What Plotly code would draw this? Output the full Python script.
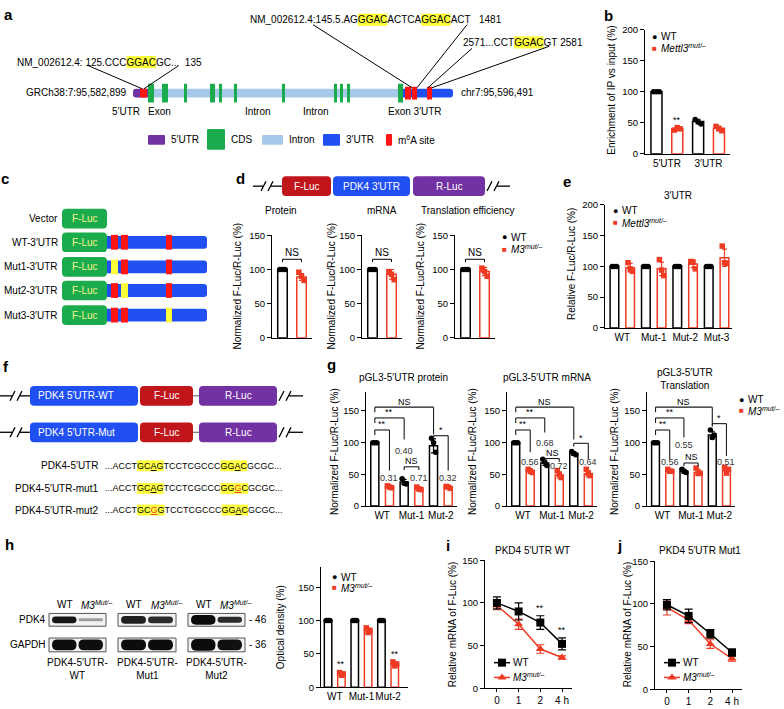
import plotly.graph_objects as go

W, H = 784, 709
FONT = "Liberation Sans, Arial, Helvetica, sans-serif"
BLK = "#000000"
RED = "#ef3b24"
PURPLE = "#7232a3"
GREEN = "#1aac4c"
LBLUE = "#a7c9e9"
BLUE = "#2150f2"
M6A = "#ff1414"
YEL = "#ffff3a"
DKRED = "#c0151b"
PALE = "#f4f48c"

# ============================ DATA ============================
# (a) PDK4 gene schematic
a_left_label = "GRCh38:7:95,582,899"
a_right_label = "chr7:95,596,491"
a_exons = [(148, 154), (162, 168), (184, 187), (210, 215), (219, 222), (234, 237),
           (282, 285), (334, 337), (340, 343), (347, 350), (398, 403)]
a_utr3_m6a = [(405, 411), (412, 417), (427, 432)]
a_region_labels = ["5′UTR", "Exon", "Intron", "Intron", "Exon 3′UTR"]
a_legend_labels = ["5′UTR", "CDS", "Intron", "3′UTR", "m<sup>6</sup>A site"]
a_seq1 = [("NM_002612.4: 125.CCC", ""), ("GGAC", "hl"), ("GC...\u00a0\u00a0135", "")]
a_seq2 = [("NM_002612.4:145.5.AG", ""), ("GGAC", "hl"), ("ACTCA", ""), ("GGAC", "hl"),
          ("ACT\u00a0\u00a0\u00a01481", "")]
a_seq3 = [("2571...CCT", ""), ("GGAC", "hl"), ("GT\u00a02581", "")]

# (b)
b_cats = ["5′UTR", "3′UTR"]
b_wt_mean = [100, 52]
b_wt_err = [1, 3.5]
b_wt_pts = [[100, 100, 100], [55, 51, 48]]
b_mut_mean = [40, 41]
b_mut_err = [2.5, 3.5]
b_mut_pts = [[38, 42, 40], [44, 40, 37]]
b_sig = ["**", ""]

# (c)
c_rows = ["Vector", "WT-3′UTR", "Mut1-3′UTR", "Mut2-3′UTR", "Mut3-3′UTR"]
c_mut_site = [None, None, 0, 1, 2]

# (d)
d_titles = ["Protein", "mRNA", "Translation efficiency"]
d_wt_mean = [100, 100, 100]
d_wt_err = [1.5, 1.5, 1.5]
d_wt_pts = [[100, 100, 100], [100, 100, 100], [100, 100, 100]]
d_mut_mean = [89, 93, 97]
d_mut_err = [5, 7, 6]
d_mut_pts = [[96, 90, 84], [97, 93, 85], [102, 97, 90]]
d_sig = ["NS", "NS", "NS"]

# (e)
e_cats = ["WT", "Mut-1", "Mut-2", "Mut-3"]
e_wt_mean = [100, 100, 100, 100]
e_wt_err = [1, 1, 1, 1]
e_wt_pts = [[100, 100, 100], [100, 100, 100], [100, 100, 100], [100, 100, 100]]
e_mut_mean = [98, 96, 104, 114]
e_mut_err = [7, 11, 6, 14]
e_mut_pts = [[106, 96, 92], [111, 94, 85], [108, 107, 96], [133, 106, 105]]

# (f)
f_construct_names = ["PDK4 5′UTR-WT", "PDK4 5′UTR-Mut"]
f_seq_names = ["PDK4-5′UTR", "PDK4-5′UTR-mut1", "PDK4-5′UTR-mut2"]
f_seqs = [
    [("...ACCT", ""), ("GC", "hl"), ("A", "hlu"), ("G", "hl"), ("TCCTCGCCC", ""),
     ("GG", "hl"), ("A", "hlu"), ("C", "hl"), ("GCGC...", "")],
    [("...ACCT", ""), ("GC", "hl"), ("A", "hlu"), ("G", "hl"), ("TCCTCGCCC", ""),
     ("GG", "hl"), ("G", "hlr"), ("C", "hl"), ("GCGC...", "")],
    [("...ACCT", ""), ("GC", "hl"), ("G", "hlr"), ("G", "hl"), ("TCCTCGCCC", ""),
     ("GG", "hl"), ("A", "hlu"), ("C", "hl"), ("GCGC...", "")],
]

# (g)
g_titles = ["pGL3-5′UTR protein", "pGL3-5′UTR mRNA", "pGL3-5′UTR<br>Translation"]
g_cats = ["WT", "Mut-1", "Mut-2"]
g_wt_mean = [[100, 38, 95], [100, 68, 83], [100, 55, 112]]
g_wt_err = [[1, 4, 11], [1, 4, 3], [1, 3, 6]]
g_wt_pts = [[[100, 100, 100], [43, 36, 35], [107, 100, 85]],
            [[100, 100, 100], [74, 69, 64], [86, 83, 81]],
            [[100, 100, 100], [58, 55, 53], [120, 108, 112]]]
g_mut_mean = [[31, 28, 30], [56, 49, 51], [56, 53, 56]]
g_mut_err = [[2, 2, 2], [3, 5, 5], [2, 5, 4]]
g_mut_pts = [[[32, 30, 29], [30, 27, 26], [31, 30, 28]],
             [[58, 55, 53], [56, 50, 45], [58, 52, 48]],
             [[58, 55, 55], [60, 52, 52], [61, 52, 58]]]
g_ratio_text = [["0.31", "0.40", "0.71", "0.32"], ["0.56", "0.68", "0.72", "0.64"], ["0.56", "0.55", "0.51"]]
g_ratio_bar = [[1, 2, 3, 5], [1, 2, 3, 5], [1, 2, 5]]
g_sig_labels = [["NS", "**", "**", "NS", "*"], ["NS", "**", "**", "NS", "*"], ["NS", "**", "**", "NS", "*"]]
g_sig_pairs = [(0, 4), (0, 2), (0, 1), (2, 3), (4, 5)]

# (h)
h_lanes = ["WT", "<i>M3</i><sup><i>Mut/–</i></sup>"]
h_groups = ["PDK4-5′UTR-<br>WT", "PDK4-5′UTR-<br>Mut1", "PDK4-5′UTR-<br>Mut2"]
h_proteins = ["PDK4", "GAPDH"]
h_markers = ["- 46", "- 36"]
h_pdk4_intensity = [0.95, 0.35, 0.9, 0.85, 0.99, 0.85]
h_gapdh_intensity = [0.98, 0.98, 0.99, 0.99, 0.99, 0.97]
h_cats = ["WT", "Mut-1", "Mut-2"]
h_wt_mean = [100, 100, 100]
h_wt_err = [1, 1, 1]
h_wt_pts = [[100, 100, 100], [100, 100, 100], [100, 100, 100]]
h_mut_mean = [20, 85, 35]
h_mut_err = [3, 4, 3]
h_mut_pts = [[22, 18, 20], [89, 82, 85], [38, 32, 35]]
h_sig = ["**", "", "**"]

# (i), (j)
ij_times = ["0", "1", "2", "4 h"]
i_title = "PKD4 5′UTR WT"
i_wt_mean = [100, 90, 77, 52]
i_wt_err = [7, 10, 8, 7]
i_mut_mean = [97, 75, 46, 36]
i_mut_err = [5, 6, 5, 2]
i_sig = ["", "", "**", "**"]
j_title = "PKD4 5′UTR Mut1"
j_wt_mean = [99, 86, 65, 43]
j_wt_err = [6, 8, 5, 4]
j_mut_mean = [96, 81, 53, 36]
j_mut_err = [9, 4, 5, 3]

MUT = "<i>M3</i><sup><i>mut/–</i></sup>"
METTL = "<i>Mettl3</i><sup><i>mut/–</i></sup>"

# ============================ HELPERS ============================
traces, shapes, ann = [], [], []
layout = dict(width=W, height=H, margin=dict(l=0, r=0, t=0, b=0, pad=0), autosize=False,
              paper_bgcolor="white", plot_bgcolor="rgba(0,0,0,0)", showlegend=False,
              barmode="overlay", font=dict(family=FONT, size=10, color=BLK))
layout["xaxis"] = dict(domain=[0, 1], range=[0, W], visible=False, fixedrange=True)
layout["yaxis"] = dict(domain=[0, 1], range=[H, 0], visible=False, fixedrange=True)
n_ax = [1]

AW = {' ': 278, '\u00a0': 278, '.': 278, ',': 278, ':': 278, '_': 556, '-': 333, '/': 278,
      'A': 667, 'B': 667, 'C': 722, 'D': 722, 'E': 667, 'F': 611, 'G': 778, 'H': 722, 'I': 278,
      'K': 667, 'L': 556, 'M': 833, 'N': 722, 'O': 778, 'P': 667, 'R': 722, 'S': 667, 'T': 611,
      'U': 722, 'W': 944}


def tw(s, size):
    return sum(AW.get(c, 556) for c in s) * size / 1000.0


def txt(x, y, s, size=10, anchor="center", color=BLK, va="middle", angle=0,
        xref="x", yref="y", yshift=0, bold=False):
    if bold:
        s = f"<b>{s}</b>"
    ann.append(dict(x=x, y=y, xref=xref, yref=yref, text=s, showarrow=False,
                    xanchor=anchor, yanchor=va, textangle=angle, yshift=yshift,
                    font=dict(size=size, color=color, family=FONT),
                    borderpad=0, borderwidth=0))


def line(x0, y0, x1, y1, color=BLK, w=1.0, xref="x", yref="y"):
    shapes.append(dict(type="line", x0=x0, y0=y0, x1=x1, y1=y1, xref=xref, yref=yref,
                       line=dict(color=color, width=w), layer="above"))


def rr(x0, y0, x1, y1, r):
    r = min(r, (x1 - x0) / 2, (y1 - y0) / 2)
    return (f"M{x0 + r},{y0} L{x1 - r},{y0} Q{x1},{y0} {x1},{y0 + r} L{x1},{y1 - r} "
            f"Q{x1},{y1} {x1 - r},{y1} L{x0 + r},{y1} Q{x0},{y1} {x0},{y1 - r} "
            f"L{x0},{y0 + r} Q{x0},{y0} {x0 + r},{y0} Z")


def box(x0, y0, x1, y1, fill, r=0, lc=None, lw=0, layer="above"):
    ln = dict(color=lc if lc else fill, width=lw)
    if r:
        shapes.append(dict(type="path", path=rr(x0, y0, x1, y1, r), xref="x", yref="y",
                           fillcolor=fill, line=ln, layer=layer))
    else:
        shapes.append(dict(type="rect", x0=x0, y0=y0, x1=x1, y1=y1, xref="x", yref="y",
                           fillcolor=fill, line=ln, layer=layer))


def seq_line(x, y, segs, size):
    html, cx = "", x
    for t, st in segs:
        w = tw(t, size)
        if st.startswith("hl"):
            box(cx, y - size * 0.62, cx + w, y + size * 0.62, YEL, layer="below")
        if st == "hlu":
            t = f"<u>{t}</u>"
        elif st == "hlr":
            t = f"<span style='color:{RED}'><u>{t}</u></span>"
        html += t
        cx += w
    txt(x, y, html, size=size, anchor="left")


def add_axes(x0, x1, yb, yt, xr, yr, ytv, xtv, xtt, xticks=""):
    n_ax[0] += 1
    n = n_ax[0]
    layout[f"xaxis{n}"] = dict(domain=[x0 / W, x1 / W], range=xr, anchor=f"y{n}",
                               showline=True, linecolor=BLK, linewidth=1.2, ticks=xticks,
                               ticklen=3, tickwidth=1.2, tickcolor=BLK, tickmode="array",
                               tickvals=xtv, ticktext=xtt, showgrid=False, zeroline=False,
                               tickangle=0,
                               tickfont=dict(size=10, color=BLK, family=FONT), fixedrange=True)
    layout[f"yaxis{n}"] = dict(domain=[1 - yb / H, 1 - yt / H], range=yr, anchor=f"x{n}",
                               showline=True, linecolor=BLK, linewidth=1.2, ticks="outside",
                               ticklen=4, tickwidth=1.2, tickcolor=BLK, tickmode="array",
                               tickvals=ytv, showgrid=False, zeroline=False,
                               tickfont=dict(size=9.5, color=BLK, family=FONT), fixedrange=True)
    return f"x{n}", f"y{n}"


JIT = [-0.14, 0.0, 0.14]


def bars(xa, ya, pos, means, errs, pts, color, symbol, width):
    traces.append(go.Bar(x=pos, y=means, width=width, xaxis=xa, yaxis=ya, hoverinfo="skip",
                         marker=dict(color="white", line=dict(color=color, width=1.5)),
                         error_y=dict(type="data", array=errs, visible=True, color=color,
                                      thickness=1.2, width=2.5)))
    xs, ys = [], []
    for p, vals in zip(pos, pts):
        for k, v in enumerate(vals):
            xs.append(p + JIT[k % 3])
            ys.append(v)
    traces.append(go.Scatter(x=xs, y=ys, mode="markers", xaxis=xa, yaxis=ya, hoverinfo="skip",
                             cliponaxis=False,
                             marker=dict(symbol=symbol, size=5.5, color=color)))


def legend2(x, y1, y2, label2):
    txt(x, y1, "●", size=9)
    txt(x + 7, y1, "WT", anchor="left")
    txt(x, y2, "■", size=8, color=RED)
    txt(x + 7, y2, label2, anchor="left")


def vtitle(x, y, s):
    txt(x, y, s, size=10, angle=-90)


# ============================ PANEL LETTERS ============================
for L, (x, y) in zip("abcdefghij", [(8, 9), (608, 10), (5, 175), (240, 175), (567, 178),
                                     (6, 366), (331, 364), (9, 547), (448, 548), (619, 548)]):
    txt(x, y, L, size=15, bold=True)

# ============================ (a) ============================
gy0, gy1 = 84, 93
box(133, gy0, 150, gy1, PURPLE, r=3)
box(148, gy0, 402, gy1, LBLUE)
box(400, gy0, 453, gy1, BLUE, r=3)
box(140, gy0, 147, gy1, M6A)
for (s, e) in a_utr3_m6a:
    box(s, 82, e, 95, M6A)
for (s, e) in a_exons:
    box(s, 79, e, 98, GREEN)
txt(127, 88, a_left_label, anchor="right")
txt(461, 88, a_right_label, anchor="left")
for lab, (x, anc) in zip(a_region_labels, [(126, "center"), (159, "center"), (258, "center"),
                                          (316, "center"), (388, "left")]):
    txt(x, 107, lab, anchor=anc)
for x0, y0, x1, y1 in [(87, 60, 142, 84), (178, 61, 144, 84), (313, 19, 412, 83),
                       (467, 19, 417, 83), (472, 43, 428, 83), (549, 41, 432, 83)]:
    line(x0, y0, x1, y1, w=1)
seq_line(17, 57, a_seq1, 10)
seq_line(250, 14, a_seq2, 10)
seq_line(463, 37, a_seq3, 10)
for lab, col, (x0, y0, x1, y1) in zip(a_legend_labels, [PURPLE, GREEN, LBLUE, BLUE, M6A],
                                      [(148, 131, 165, 141), (207, 125, 225, 146),
                                       (262, 131, 283, 141), (323, 130, 340, 142),
                                       (386, 130, 392, 142)]):
    box(x0, y0, x1, y1, col, r=1)
    txt(x1 + 6, 136, lab, anchor="left")

# ============================ (b) ============================
xa, ya = add_axes(645, 730, 150, 24, [-0.55, 3.53], [0, 200], [0, 50, 100, 150, 200],
                  [0.5, 2.5], b_cats)
bars(xa, ya, [0, 2], b_wt_mean, b_wt_err, b_wt_pts, BLK, "circle", 0.53)
bars(xa, ya, [1, 3], b_mut_mean, b_mut_err, b_mut_pts, RED, "square", 0.53)
for k, s in enumerate(b_sig):
    if s:
        txt(2 * k + 1, b_mut_mean[k] + b_mut_err[k] + 3, s, size=9, va="bottom", xref=xa, yref=ya)
vtitle(612, 86, "Enrichment of IP vs input (%)")
legend2(654, 31, 43, METTL)

# ============================ (c) ============================
c_y = [216, 240, 265, 289, 314]
for k, (lab, y) in enumerate(zip(c_rows, c_y)):
    txt(58, y, lab, anchor="right")
    if k > 0:
        box(104, y - 6.5, 207, y + 6.5, BLUE, r=3)
        for si, (s, e) in enumerate([(111, 118), (121, 128), (166, 172)]):
            box(s, y - 7.5, e, y + 7.5, YEL if c_mut_site[k] == si else M6A)
    box(62, y - 10, 107, y + 10, GREEN, r=4)
    txt(84.5, y, "F-Luc", color=PALE)

# ============================ (d) ============================
cy = 183
line(253, cy, 263, cy, w=1.3)
line(261, cy + 5, 266, cy - 5, w=1.3)
line(268, cy + 5, 273, cy - 5, w=1.3)
line(271, cy, 282, cy, w=1.3)
box(282, cy - 10, 331, cy + 10, DKRED, r=4)
box(333, cy - 10, 410, cy + 10, BLUE, r=4)
box(413, cy - 10, 485, cy + 10, PURPLE, r=4)
txt(306.5, cy, "F-Luc", color="white")
txt(371.5, cy, "PDK4 3′UTR", color="white")
txt(449, cy, "R-Luc", color="white")
line(487, cy + 5, 492, cy - 5, w=1.3)
line(494, cy + 5, 499, cy - 5, w=1.3)
line(497, cy, 510, cy, w=1.3)
for k, (x0, tx, yl) in enumerate([(272, 281, 238), (362, 382, 332), (455, 467, 421)]):
    xa, ya = add_axes(x0, x0 + 40, 337, 233, [-0.55, 1.55], [0, 150], [0, 50, 100, 150], [], [])
    bars(xa, ya, [0], [d_wt_mean[k]], [d_wt_err[k]], [d_wt_pts[k]], BLK, "circle", 0.5)
    bars(xa, ya, [1], [d_mut_mean[k]], [d_mut_err[k]], [d_mut_pts[k]], RED, "square", 0.5)
    line(0, 111, 0, 115, xref=xa, yref=ya)
    line(0, 115, 1, 115, xref=xa, yref=ya)
    line(1, 115, 1, 111, xref=xa, yref=ya)
    txt(0.5, 117, d_sig[k], size=10, va="bottom", xref=xa, yref=ya)
    txt(tx, 208, d_titles[k])
    vtitle(yl, 285, "Normalized F-Luc/R-Luc (%)")
legend2(504, 235, 247, MUT)

# ============================ (e) ============================
xa, ya = add_axes(605, 732, 327, 202, [-0.6, 7.48], [0, 200], [0, 50, 100, 150, 200],
                  [0.5, 2.5, 4.5, 6.5], e_cats)
bars(xa, ya, [0, 2, 4, 6], e_wt_mean, e_wt_err, e_wt_pts, BLK, "circle", 0.55)
bars(xa, ya, [1, 3, 5, 7], e_mut_mean, e_mut_err, e_mut_pts, RED, "square", 0.55)
txt(678, 192, "3′UTR")
vtitle(572, 262, "Relative F-Luc/R-Luc (%)")
legend2(615, 208, 220, METTL)

# ============================ (f) ============================
for k, y in enumerate([396, 433]):
    line(0, y, 12, y, w=1.3)
    line(10, y + 5, 15, y - 5, w=1.3)
    line(17, y + 5, 22, y - 5, w=1.3)
    line(20, y, 30, y, w=1.3)
    box(30, y - 10, 138, y + 10, BLUE, r=4)
    txt(38, y, f_construct_names[k], anchor="left", color="white")
    box(140, y - 10, 193, y + 10, DKRED, r=4)
    txt(166.5, y, "F-Luc", color="white")
    line(193, y, 199, y, color="#555555", w=1)
    box(199, y - 10, 277, y + 10, PURPLE, r=4)
    txt(238, y, "R-Luc", color="white")
    line(279, y + 5, 284, y - 5, w=1.3)
    line(286, y + 5, 291, y - 5, w=1.3)
    line(289, y, 303, y, w=1.3)
for name, segs, y in zip(f_seq_names, f_seqs, [467, 490, 512]):
    txt(98, y, name, anchor="right")
    seq_line(105, y, segs, 9)

# ============================ (g) ============================
g_geom = [(366, 457, 403, 335), (507, 597, 547, 473), (647, 735, 685, 615)]
g_levels = [[(156, 148, 113), (139, 131, 105), (120, 112, 56), (62, 57, 57), (111, 106, 56)],
            [(156, 148, 105), (139, 131, 116), (120, 112, 85), (75, 70, 70), (99, 94, 74)],
            [(156, 148, 128), (139, 131, 108), (120, 112, 74), (68, 63, 63), (130, 125, 79)]]
g_ratio_y = [[45, 87, 45, 45], [70, 99, 63, 70], [70, 97, 70]]
for k, (x0, x1, tx, yl) in enumerate(g_geom):
    xa, ya = add_axes(x0, x1, 508, 392, [-0.6, 5.6], [0, 180], [0, 50, 100, 150],
                      [0.5, 2.5, 4.5], g_cats)
    bars(xa, ya, [0, 2, 4], g_wt_mean[k], g_wt_err[k], g_wt_pts[k], BLK, "circle", 0.55)
    bars(xa, ya, [1, 3, 5], g_mut_mean[k], g_mut_err[k], g_mut_pts[k], RED, "square", 0.55)
    for (a, b), lab, (lev, le, re) in zip(g_sig_pairs, g_sig_labels[k], g_levels[k]):
        line(a, le, a, lev, color="#1a1a1a", w=1.1, xref=xa, yref=ya)
        line(a, lev, b, lev, color="#1a1a1a", w=1.1, xref=xa, yref=ya)
        line(b, lev, b, re, color="#1a1a1a", w=1.1, xref=xa, yref=ya)
        txt((a + b) / 2, lev + 1, lab, size=9, va="bottom",
            color=BLK, xref=xa, yref=ya)
    for t, bi, yy in zip(g_ratio_text[k], g_ratio_bar[k], g_ratio_y[k]):
        txt(bi, yy, t, size=9, color="#333333", xref=xa, yref=ya)
    txt(tx, 377 if k < 2 else 379, g_titles[k])
    vtitle(yl, 453, "Normalized F-Luc/R-Luc (%)")
legend2(741, 400, 411, MUT)

# ============================ (h) blots ============================
blot_boxes = [(49, 106), (118, 176), (188, 245)]
pdk4_th = [7, 3, 8, 7, 10, 6]
gapdh_th = [11, 11, 11, 11, 12, 11]
for g, (bx0, bx1) in enumerate(blot_boxes):
    mid = (bx0 + bx1) / 2
    txt(bx0 + 16, 608, h_lanes[0])
    txt(bx1 - 9, 608, h_lanes[1])
    for r, (ry0, ry1, inten, th) in enumerate([(617, 630, h_pdk4_intensity, pdk4_th),
                                                (642, 656, h_gapdh_intensity, gapdh_th)]):
        box(bx0, ry0, bx1, ry1, "#f3f3f3", lc="#555555", lw=1)
        cyb = (ry0 + ry1) / 2
        for l in range(2):
            v = inten[2 * g + l]
            gray = int(235 - 225 * v)
            t = th[2 * g + l]
            lx0 = bx0 + 3 if l == 0 else mid + 1
            lx1 = mid - 1 if l == 0 else bx1 - 3
            box(lx0, cyb - t / 2, lx1, cyb + t / 2, f"rgb({gray},{gray},{gray})", r=t / 2)
    txt(mid, 673.5, h_groups[g])
for lab, mk, y in zip(h_proteins, h_markers, [623.5, 649]):
    txt(46, y, lab, anchor="right")
    txt(249, y, mk, anchor="left")

# ============================ (h) bars ============================
xa, ya = add_axes(321, 408, 692, 570, [-0.53, 5.99], [0, 180], [0, 50, 100, 150],
                  [0.5, 2.5, 4.5], h_cats)
bars(xa, ya, [0, 2, 4], h_wt_mean, h_wt_err, h_wt_pts, BLK, "circle", 0.56)
bars(xa, ya, [1, 3, 5], h_mut_mean, h_mut_err, h_mut_pts, RED, "square", 0.56)
for k, s in enumerate(h_sig):
    if s:
        txt(2 * k + 1, h_mut_mean[k] + h_mut_err[k] + 4, s, size=9, va="bottom", xref=xa, yref=ya)
vtitle(280, 631, "Optical density (%)")
legend2(334, 580, 591, MUT)


# ============================ (i), (j) ============================
def decay(x0, yb, yt, title, tx, yl, wt, wte, mu, mue, sig, lgx):
    xa, ya = add_axes(x0, x0 + 87, yb, yt, [-0.55, 3.46], [0, 150], [0, 50, 100, 150],
                      [0, 1, 2, 3], ij_times, xticks="outside")
    xs = [0, 1, 2, 3]
    traces.append(go.Scatter(x=xs, y=mu, mode="lines+markers", xaxis=xa, yaxis=ya,
                             hoverinfo="skip", cliponaxis=False,
                             line=dict(color=RED, width=1.5),
                             marker=dict(symbol="triangle-up", size=8, color=RED),
                             error_y=dict(type="data", array=mue, color=RED, thickness=1.2, width=4)))
    traces.append(go.Scatter(x=xs, y=wt, mode="lines+markers", xaxis=xa, yaxis=ya,
                             hoverinfo="skip", cliponaxis=False,
                             line=dict(color=BLK, width=1.5),
                             marker=dict(symbol="square", size=8, color=BLK),
                             error_y=dict(type="data", array=wte, color=BLK, thickness=1.2, width=4)))
    for k, s in enumerate(sig):
        if s:
            txt(k, wt[k] + wte[k] + 3, s, size=9, va="bottom", xref=xa, yref=ya)
    txt(tx, 553, title)
    vtitle(yl, 628, "Relative mRNA of F-Luc (%)")
    for y, col, sym, lab in [(667, BLK, "square", "WT"), (682, RED, "triangle-up", MUT)]:
        line(lgx - 8, y, lgx + 8, y, color=col, w=1.5)
        traces.append(go.Scatter(x=[lgx], y=[y], mode="markers",
                                 xaxis="x", yaxis="y", hoverinfo="skip", cliponaxis=False,
                                 marker=dict(symbol=sym, size=8, color=col)))
        txt(lgx + 11, y, lab, anchor="left")


decay(485, 693, 563, i_title, 532, 452, i_wt_mean, i_wt_err, i_mut_mean, i_mut_err, i_sig, 502)
decay(655, 694, 564, j_title, 700, 627, j_wt_mean, j_wt_err, j_mut_mean, j_mut_err,
      ["", "", "", ""], 672)

fig = go.Figure(data=traces, layout=layout)
fig.update_layout(shapes=shapes, annotations=ann)
fig.write_html("out.html", config={"displayModeBar": False},
               post_script="document.body.style.margin='0';document.body.style.padding='0';"
                           "document.body.style.overflow='hidden';")
